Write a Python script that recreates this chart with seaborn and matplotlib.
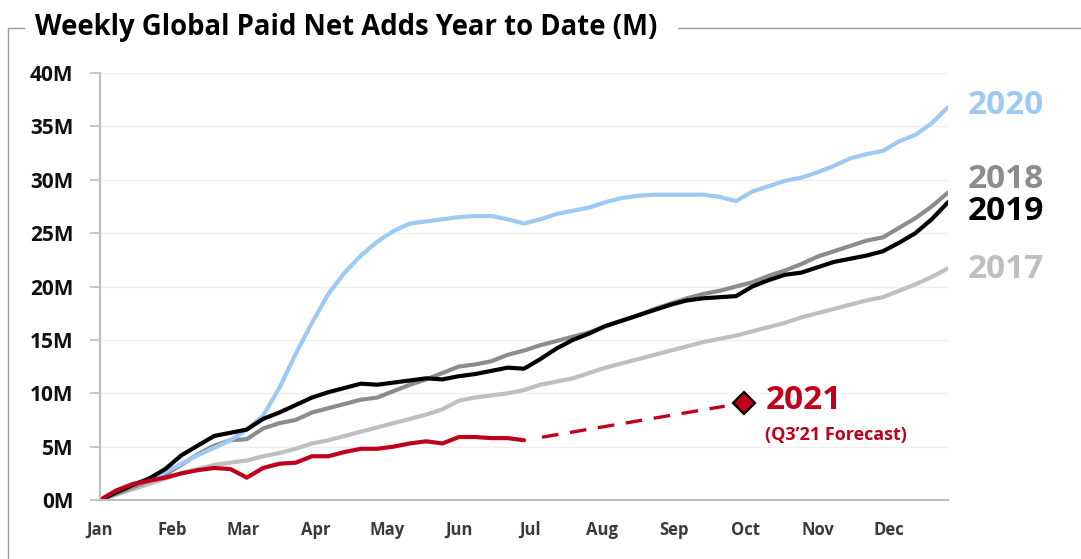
import matplotlib
matplotlib.use("Agg")
import matplotlib.pyplot as plt
from matplotlib.lines import Line2D
import numpy as np
import pandas as pd
import seaborn as sns

# weekly cumulative paid net adds (M), week 0..52
weeks = list(range(53))

adds_2017 = [0, 0.5, 1.0, 1.5, 2.0, 2.5, 2.9, 3.3, 3.5, 3.7, 4.1, 4.4, 4.8, 5.3, 5.6, 6.0,
             6.4, 6.8, 7.2, 7.6, 8.0, 8.5, 9.3, 9.6, 9.8, 10.0, 10.3, 10.8, 11.1, 11.4, 11.9,
             12.4, 12.8, 13.2, 13.6, 14.0, 14.4, 14.8, 15.1, 15.4, 15.8, 16.2, 16.6, 17.1,
             17.5, 17.9, 18.3, 18.7, 19.0, 19.6, 20.2, 20.9, 21.7]

adds_2018 = [0, 0.6, 1.2, 1.8, 2.4, 3.3, 4.3, 5.1, 5.6, 5.7, 6.7, 7.2, 7.5, 8.2, 8.6, 9.0,
             9.4, 9.6, 10.2, 10.8, 11.3, 11.9, 12.5, 12.7, 13.0, 13.6, 14.0, 14.5, 14.9, 15.3,
             15.7, 16.3, 16.8, 17.3, 17.9, 18.4, 18.9, 19.3, 19.6, 20.0, 20.4, 21.0, 21.5,
             22.1, 22.8, 23.3, 23.8, 24.3, 24.6, 25.5, 26.4, 27.5, 28.8]

adds_2019 = [0, 0.7, 1.4, 2.0, 2.9, 4.2, 5.1, 6.0, 6.3, 6.6, 7.6, 8.2, 8.9, 9.6, 10.1, 10.5,
             10.9, 10.8, 11.0, 11.2, 11.4, 11.3, 11.6, 11.8, 12.1, 12.4, 12.3, 13.2, 14.2,
             15.0, 15.6, 16.3, 16.8, 17.3, 17.8, 18.3, 18.7, 18.9, 19.0, 19.1, 20.0, 20.6,
             21.1, 21.3, 21.8, 22.3, 22.6, 22.9, 23.3, 24.1, 25.0, 26.3, 27.9]

adds_2020 = [0, 0.7, 1.4, 1.9, 2.6, 3.4, 4.2, 4.9, 5.6, 6.6, 7.9, 10.5, 13.7, 16.6, 19.3,
             21.3, 22.9, 24.2, 25.2, 25.9, 26.1, 26.3, 26.5, 26.6, 26.6, 26.3, 25.9, 26.3,
             26.8, 27.1, 27.4, 27.9, 28.3, 28.5, 28.6, 28.6, 28.6, 28.6, 28.4, 28.0, 28.9,
             29.4, 29.9, 30.2, 30.7, 31.3, 32.0, 32.4, 32.7, 33.6, 34.2, 35.3, 36.8]

weeks_2021 = list(range(27))
adds_2021 = [0, 0.9, 1.5, 1.8, 2.1, 2.5, 2.8, 3.0, 2.9, 2.1, 3.0, 3.4, 3.5, 4.1, 4.1, 4.5,
             4.8, 4.8, 5.0, 5.3, 5.5, 5.3, 5.9, 5.9, 5.8, 5.8, 5.6]

# Q3'21 forecast: from last actual week to end of September
forecast_weeks = [26, 39.5]
forecast_adds = [5.6, 9.1]

months = ["Jan", "Feb", "Mar", "Apr", "May", "Jun", "Jul", "Aug", "Sep", "Oct", "Nov", "Dec"]
month_weeks = [0, 4.4, 8.8, 13.2, 17.6, 22.0, 26.4, 30.8, 35.2, 39.6, 44.0, 48.4]
y_ticks = [0, 5, 10, 15, 20, 25, 30, 35, 40]

colors = {
    "2017": "#bfbfbf",
    "2018": "#8c8c8c",
    "2019": "#000000",
    "2020": "#9ccaf5",
    "2021": "#c0001a",
}

sns.set_theme(style="white")
plt.rcParams["font.family"] = ["Open Sans", "DejaVu Sans"]

fig = plt.figure(figsize=(10.81, 5.59), dpi=100)
ax = fig.add_axes([0.0925, 0.1055, 0.7845, 0.7639])

series = [("2017", adds_2017), ("2018", adds_2018), ("2020", adds_2020), ("2019", adds_2019)]
for year, vals in series:
    df = pd.DataFrame({"week": weeks, "adds": vals})
    sns.lineplot(data=df, x="week", y="adds", ax=ax, color=colors[year], linewidth=3.0)

df21 = pd.DataFrame({"week": weeks_2021, "adds": adds_2021})
sns.lineplot(data=df21, x="week", y="adds", ax=ax, color=colors["2021"], linewidth=3.0)

# dashed forecast leg, trimmed a little at both ends
dash_x = np.array(forecast_weeks) + np.array([1.1, -1.2])
ax.plot(dash_x, np.interp(dash_x, forecast_weeks, forecast_adds),
        color=colors["2021"], linewidth=2.4, dashes=(5, 3.5))
ax.plot(forecast_weeks[-1], forecast_adds[-1], marker="D", markersize=11,
        markerfacecolor=colors["2021"], markeredgecolor="black", markeredgewidth=1.6,
        linestyle="none")

ax.set_xlim(0, 52)
ax.set_ylim(0, 40)
ax.set_xticks(month_weeks)
ax.set_xticklabels(months, fontsize=12, fontweight="bold", color="#3a3a3a")
ax.set_yticks(y_ticks)
ax.set_yticklabels([f"{v}M" for v in y_ticks], fontsize=15, fontweight="bold", color="#111111")
ax.set_xlabel("")
ax.set_ylabel("")
ax.grid(axis="y", color="#efefef", linewidth=1.0)
ax.grid(axis="x", visible=False)
for side in ["top", "right"]:
    ax.spines[side].set_visible(False)
for side in ["left", "bottom"]:
    ax.spines[side].set_color("#bdbdbd")
    ax.spines[side].set_linewidth(1.5)
ax.tick_params(axis="y", which="major", left=True, length=7, width=1.2, color="#bdbdbd", pad=12)
ax.tick_params(axis="x", which="major", bottom=False, pad=9)

# right-hand year labels
label_kw = dict(fontsize=24, fontweight="bold", va="center", ha="left", clip_on=False)
ax.text(53.2, 37.0, "2020", color=colors["2020"], **label_kw)
ax.text(53.2, 30.0, "2018", color=colors["2018"], **label_kw)
ax.text(53.2, 27.0, "2019", color=colors["2019"], **label_kw)
ax.text(53.2, 21.6, "2017", color=colors["2017"], **label_kw)
ax.text(40.8, 9.3, "2021", color=colors["2021"], **label_kw)
ax.text(40.8, 6.1, "(Q3\u201921 Forecast)", color=colors["2021"], fontsize=13,
        fontweight="bold", va="center", ha="left")

# title and frame
fig.text(0.032, 0.951, "Weekly Global Paid Net Adds Year to Date (M)", fontsize=19.8,
         fontweight="bold", color="black", va="center", ha="left")
frame_kw = dict(color="#9a9a9a", linewidth=1.0, transform=fig.transFigure)
fig.add_artist(Line2D([0.0074, 0.0074], [0.0, 0.95], **frame_kw))
fig.add_artist(Line2D([0.0074, 0.022], [0.95, 0.95], **frame_kw))
fig.add_artist(Line2D([0.627, 1.0], [0.95, 0.95], **frame_kw))

fig.savefig("out.png", dpi=100)
